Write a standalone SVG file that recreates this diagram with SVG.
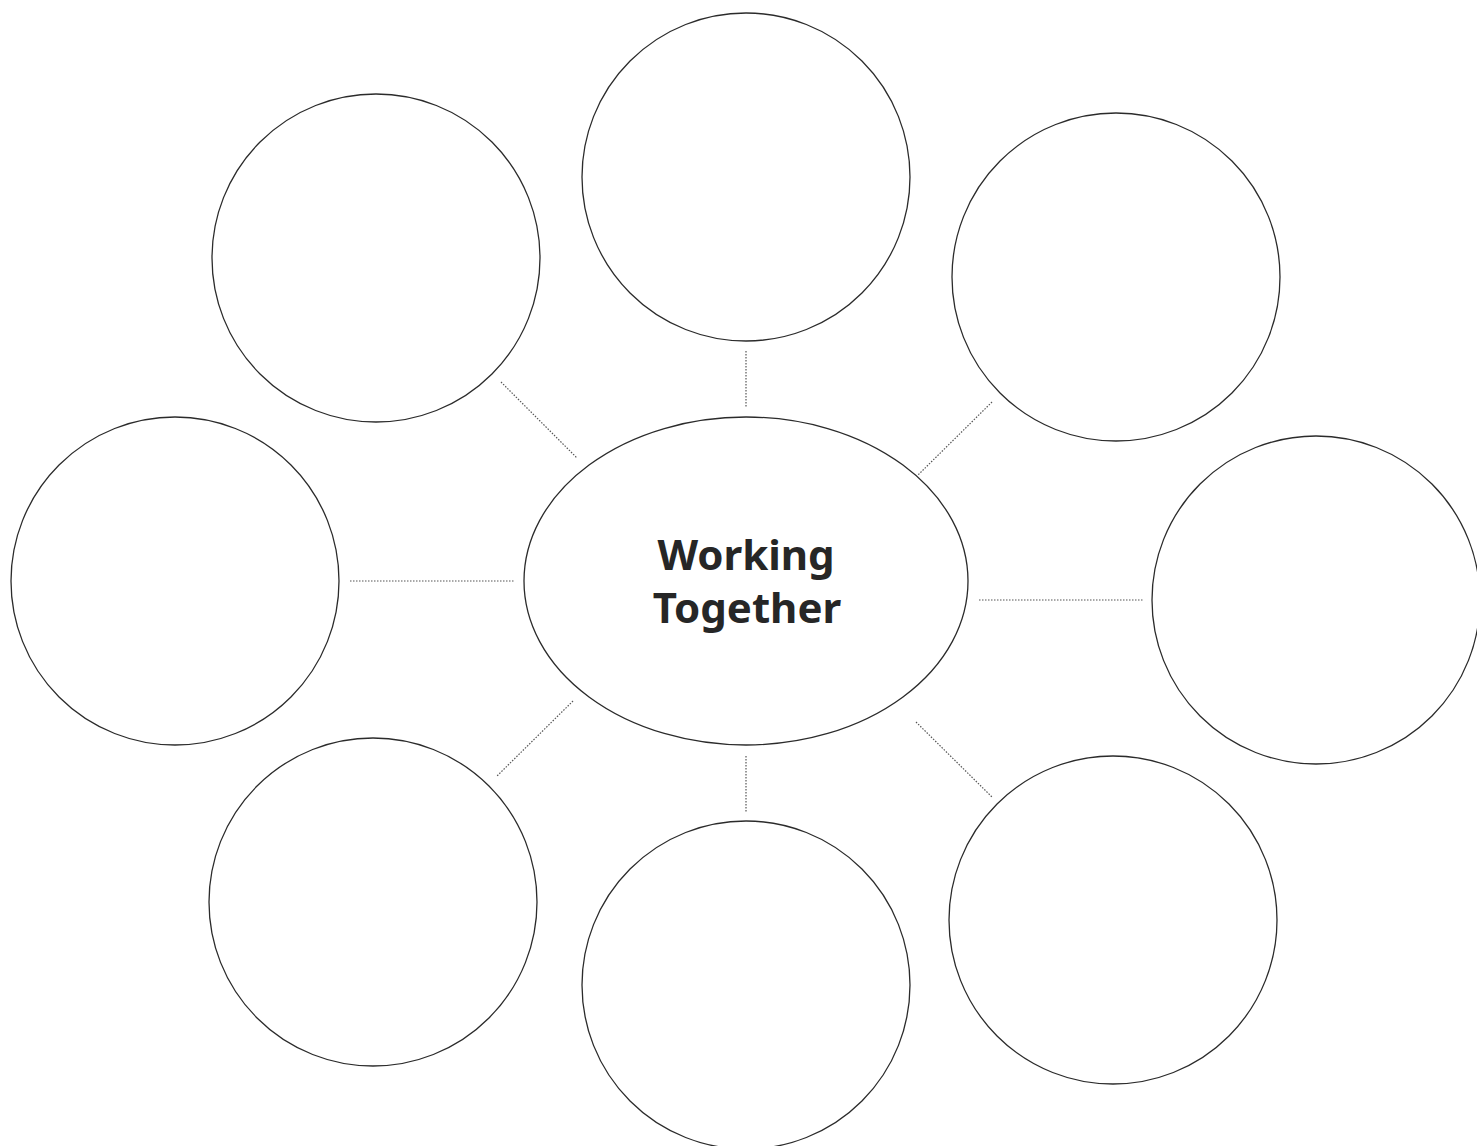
<svg xmlns="http://www.w3.org/2000/svg" width="1477" height="1146" viewBox="0 0 1477 1146">
<style>
.node{fill:#fff;stroke:#2b2b2b;stroke-width:1.3}
.conn{stroke:#555;stroke-width:1.2;stroke-dasharray:1.5 1.5;fill:none}
.label{font-family:"Noto Sans","Open Sans",sans-serif;font-weight:bold;font-size:42px;fill:#262626;text-anchor:middle}
</style>
<rect width="1477" height="1146" fill="#fff"/>
<g id="connectors">
<line class="conn" x1="746" y1="351" x2="746" y2="407"/>
<line class="conn" x1="501" y1="382" x2="577" y2="458"/>
<line class="conn" x1="992" y1="402" x2="918" y2="475"/>
<line class="conn" x1="350" y1="581" x2="514" y2="581"/>
<line class="conn" x1="979" y1="600" x2="1143" y2="600"/>
<line class="conn" x1="573" y1="701" x2="497" y2="776"/>
<line class="conn" x1="746" y1="756" x2="746" y2="812"/>
<line class="conn" x1="916" y1="722" x2="992" y2="797"/>
</g>
<g id="center">
<ellipse class="node" cx="746" cy="581" rx="222" ry="164"/>
<text class="label" x="746" y="570">Working</text>
<text class="label" x="747" y="623">Together</text>
</g>
<g id="circle-top"><circle class="node" cx="746" cy="177" r="164"/></g>
<g id="circle-top-left"><circle class="node" cx="376" cy="258" r="164"/></g>
<g id="circle-top-right"><circle class="node" cx="1116" cy="277" r="164"/></g>
<g id="circle-left"><circle class="node" cx="175" cy="581" r="164"/></g>
<g id="circle-right"><circle class="node" cx="1316" cy="600" r="164"/></g>
<g id="circle-bottom-left"><circle class="node" cx="373" cy="902" r="164"/></g>
<g id="circle-bottom"><circle class="node" cx="746" cy="985" r="164"/></g>
<g id="circle-bottom-right"><circle class="node" cx="1113" cy="920" r="164"/></g>
</svg>
